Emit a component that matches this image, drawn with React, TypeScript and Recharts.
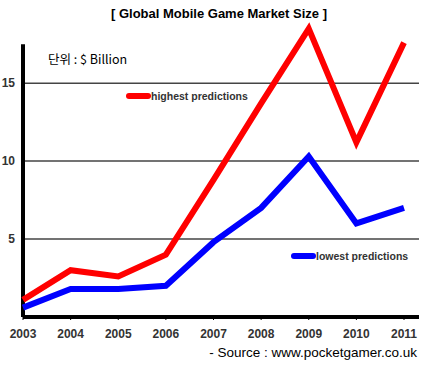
import React from "react";
import { LineChart, Line, XAxis, YAxis, CartesianGrid, ReferenceLine } from "recharts";

const years = ["2003", "2004", "2005", "2006", "2007", "2008", "2009", "2010", "2011"];
const highest = [1.1, 3.0, 2.6, 4.0, 8.8, 13.7, 18.5, 11.2, 17.6];
const lowest = [0.6, 1.8, 1.8, 2.0, 4.8, 7.0, 10.3, 6.0, 7.0];
const yTicks = [5, 10, 15];

const data = years.map((y, i) => ({ year: y, high: highest[i], low: lowest[i] }));

const font = '"Liberation Sans", Arial, sans-serif';

export default function App() {
  return (
    <div style={{ position: "absolute", left: 0, top: 0, width: 430, height: 366, background: "#fff", fontFamily: font }}>
      <LineChart width={430} height={366} data={data} margin={{ top: 13, right: 11, bottom: 29, left: 8 }}>
        <CartesianGrid horizontal vertical={false} horizontalValues={yTicks} stroke="#444" strokeWidth={1.5} />
        <XAxis
          dataKey="year"
          padding={{ left: 0, right: 15 }}
          axisLine={{ stroke: "#000", strokeWidth: 4 }}
          tickLine={{ stroke: "#000" }}
          tickSize={3}
          tickMargin={9}
          height={20}
          interval={0}
          tick={{ fill: "#333", fontSize: 12, fontWeight: "bold", fontFamily: font }}
        />
        <YAxis
          type="number"
          domain={[0, 19.5]}
          ticks={yTicks}
          width={15}
          axisLine={false}
          tickLine={false}
          tickSize={0}
          tickMargin={8}
          tick={{ fill: "#333", fontSize: 12, fontWeight: "bold", fontFamily: font }}
        />
        <ReferenceLine
          segment={[{ x: "2003", y: 0 }, { x: "2003", y: 17.5 }]}
          stroke="#000"
          strokeWidth={4}
        />
        <Line dataKey="high" stroke="#ff0000" strokeWidth={6} dot={false} isAnimationActive={false} />
        <Line dataKey="low" stroke="#0000ff" strokeWidth={6} dot={false} isAnimationActive={false} />
      </LineChart>
      <div style={{ position: "absolute", left: 0, width: 438, top: 6, textAlign: "center", fontSize: 13, fontWeight: "bold", color: "#000" }}>
        [ Global Mobile Game Market Size ]
      </div>
      <div style={{ position: "absolute", left: 48, top: 49, fontSize: 12.5, color: "#000", fontFamily: '"Noto Sans CJK KR", ' + font }}>
        단위 : $ Billion
      </div>
      <div style={{ position: "absolute", right: 13, top: 345, fontSize: 13.5, color: "#000" }}>
        - Source : www.pocketgamer.co.uk
      </div>
      <div style={{ position: "absolute", left: 126, top: 90, display: "flex", alignItems: "center" }}>
        <div style={{ width: 25, height: 6, background: "#ff0000", borderRadius: 3 }} />
        <span style={{ fontSize: 10.5, fontWeight: "bold", color: "#333" }}>highest predictions</span>
      </div>
      <div style={{ position: "absolute", left: 291, top: 250, display: "flex", alignItems: "center" }}>
        <div style={{ width: 25, height: 6, background: "#0000ff", borderRadius: 3 }} />
        <span style={{ fontSize: 10.5, fontWeight: "bold", color: "#333" }}>lowest predictions</span>
      </div>
    </div>
  );
}
